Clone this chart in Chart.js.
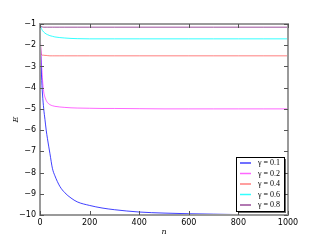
<!DOCTYPE html>
<html>
<head>
<meta charset="utf-8">
<script src="https://cdn.jsdelivr.net/npm/chart.js@4"></script>
<style>
  html, body { margin: 0; padding: 0; background: #fff; }
  #wrap { width: 320px; height: 240px; }
</style>
</head>
<body>
<div id="wrap"><canvas id="energyChart" width="320" height="240"></canvas></div>
<script>
// sample points along n (shared by all curves)
const nValues = [0, 2, 4, 6, 8, 10, 15, 20, 25, 30, 40, 50, 60, 80, 100, 125, 150, 200, 250, 300, 400, 500, 600, 700, 800, 900, 1000];

// E, one list per gamma
const eGamma01 = [-1, -2.0, -2.8, -3.4, -3.9, -4.3, -5.0, -5.5, -6.0, -6.4, -7.1, -7.8, -8.15, -8.65, -8.95, -9.2, -9.38, -9.55, -9.67, -9.75, -9.86, -9.91, -9.94, -9.96, -9.98, -9.99, -10.0];
const eGamma02 = [-1, -1.8, -2.4, -2.9, -3.2, -3.6, -4.2, -4.45, -4.6, -4.7, -4.8, -4.85, -4.88, -4.91, -4.93, -4.95, -4.96, -4.97, -4.98, -4.98, -4.99, -5.0, -5.0, -5.0, -5.0, -5.0, -5.0];
const eGamma04 = [-1, -1.9, -2.35, -2.44, -2.46, -2.47, -2.47, -2.48, -2.48, -2.49, -2.5, -2.5, -2.5, -2.5, -2.5, -2.5, -2.5, -2.5, -2.5, -2.5, -2.5, -2.5, -2.5, -2.5, -2.5, -2.5, -2.5];
const eGamma06 = [-1, -1.1, -1.17, -1.22, -1.27, -1.31, -1.38, -1.43, -1.47, -1.5, -1.55, -1.58, -1.61, -1.64, -1.66, -1.68, -1.69, -1.7, -1.7, -1.7, -1.7, -1.7, -1.7, -1.7, -1.7, -1.7, -1.7];
const eGamma08 = [-1, -1.08, -1.12, -1.13, -1.14, -1.14, -1.15, -1.15, -1.15, -1.15, -1.15, -1.15, -1.15, -1.15, -1.15, -1.15, -1.15, -1.15, -1.15, -1.15, -1.15, -1.15, -1.15, -1.15, -1.15, -1.15, -1.15];

const seriesLabels = ['\u03b3 = 0.1', '\u03b3 = 0.2', '\u03b3 = 0.4', '\u03b3 = 0.6', '\u03b3 = 0.8'];
const seriesColors = [
    'rgba(0, 0, 255, 0.75)',
    'rgba(255, 0, 255, 0.6)',
    'rgba(255, 0, 0, 0.5)',
    'rgba(0, 255, 255, 0.8)',
    'rgba(110, 0, 110, 0.7)'
];

const xTicks = [0, 200, 400, 600, 800, 1000];
const yTicks = [-1, -2, -3, -4, -5, -6, -7, -8, -9, -10];

function toPoints(ys) {
    return nValues.map((n, i) => ({ x: n, y: ys[i] }));
}

// ======================================
// frame, inward ticks and boxed legend (matplotlib look)
// ======================================
const mplFrame = {
    id: 'mplFrame',
    afterDraw(chart) {
        const ctx = chart.ctx;
        const area = chart.chartArea;
        const xs = chart.scales.x;
        const ys = chart.scales.y;
        ctx.save();

        // frame
        ctx.strokeStyle = '#9a9a9a';
        ctx.lineWidth = 2;
        ctx.strokeRect(area.left, area.top, area.right - area.left, area.bottom - area.top);

        // ticks pointing in
        ctx.strokeStyle = '#555';
        ctx.lineWidth = 1;
        ctx.beginPath();
        xTicks.forEach(v => {
            const px = Math.round(xs.getPixelForValue(v)) + 0.5;
            ctx.moveTo(px, area.bottom); ctx.lineTo(px, area.bottom - 4);
            ctx.moveTo(px, area.top); ctx.lineTo(px, area.top + 4);
        });
        yTicks.forEach(v => {
            const py = Math.round(ys.getPixelForValue(v)) + 0.5;
            ctx.moveTo(area.left, py); ctx.lineTo(area.left + 4, py);
            ctx.moveTo(area.right, py); ctx.lineTo(area.right - 4, py);
        });
        ctx.stroke();

        // legend box
        const bx = 236, by = 157, bw = 48, bh = 54;
        ctx.fillStyle = 'rgba(0,0,0,0.6)';
        ctx.fillRect(bx + 2, by + 2, bw, bh);
        ctx.fillStyle = '#fff';
        ctx.fillRect(bx, by, bw, bh);
        ctx.strokeStyle = '#000';
        ctx.lineWidth = 1;
        ctx.strokeRect(bx + 0.5, by + 0.5, bw, bh);

        ctx.font = '8px "Liberation Serif"';
        ctx.textBaseline = 'middle';
        ctx.textAlign = 'left';
        chart.data.datasets.forEach((ds, i) => {
            const ly = by + 6 + i * 10.5;
            ctx.strokeStyle = ds.borderColor;
            ctx.lineWidth = 1.5;
            ctx.beginPath();
            ctx.moveTo(bx + 4, ly);
            ctx.lineTo(bx + 15, ly);
            ctx.stroke();
            ctx.fillStyle = '#000';
            ctx.fillText(ds.label, bx + 22, ly);
        });
        ctx.restore();
    }
};

function createEnergyChart() {
    const ctx = document.getElementById('energyChart');
    const allSeries = [eGamma01, eGamma02, eGamma04, eGamma06, eGamma08];

    new Chart(ctx, {
        type: 'line',
        data: {
            datasets: allSeries.map((ys, i) => ({
                label: seriesLabels[i],
                data: toPoints(ys),
                borderColor: seriesColors[i],
                borderWidth: 1,
                pointRadius: 0,
                cubicInterpolationMode: 'monotone',
                fill: false
            }))
        },
        options: {
            responsive: false,
            animation: false,
            layout: { padding: { top: 24, right: 32, left: 0, bottom: 0 } },
            plugins: {
                legend: { display: false },
                tooltip: { enabled: false }
            },
            scales: {
                x: {
                    type: 'linear',
                    min: 0,
                    max: 1000,
                    afterBuildTicks: s => { s.ticks = xTicks.map(v => ({ value: v })); },
                    afterFit: s => { s.height = 25; },
                    grid: { display: false, drawTicks: false },
                    border: { display: false },
                    ticks: {
                        color: '#000',
                        padding: 3,
                        maxRotation: 0,
                        font: { family: 'DejaVu Sans', size: 8 },
                        callback: v => String(v)
                    },
                    title: {
                        display: true,
                        text: 'n',
                        color: '#000',
                        padding: { top: 0, bottom: 3 },
                        font: { family: 'DejaVu Serif', size: 8, style: 'italic' }
                    }
                },
                y: {
                    type: 'linear',
                    min: -10,
                    max: -1,
                    afterBuildTicks: s => { s.ticks = yTicks.map(v => ({ value: v })); },
                    afterFit: s => { s.width = 40; },
                    grid: { display: false, drawTicks: false },
                    border: { display: false },
                    ticks: {
                        color: '#000',
                        padding: 4,
                        font: { family: 'DejaVu Sans', size: 8 },
                        callback: v => String(v).replace('-', '\u2212')
                    },
                    title: {
                        display: true,
                        text: 'E',
                        color: '#000',
                        padding: { top: 11, bottom: 0 },
                        font: { family: 'DejaVu Serif', size: 8, style: 'italic' }
                    }
                }
            }
        },
        plugins: [mplFrame]
    });
}

document.addEventListener('DOMContentLoaded', createEnergyChart);
</script>
</body>
</html>
